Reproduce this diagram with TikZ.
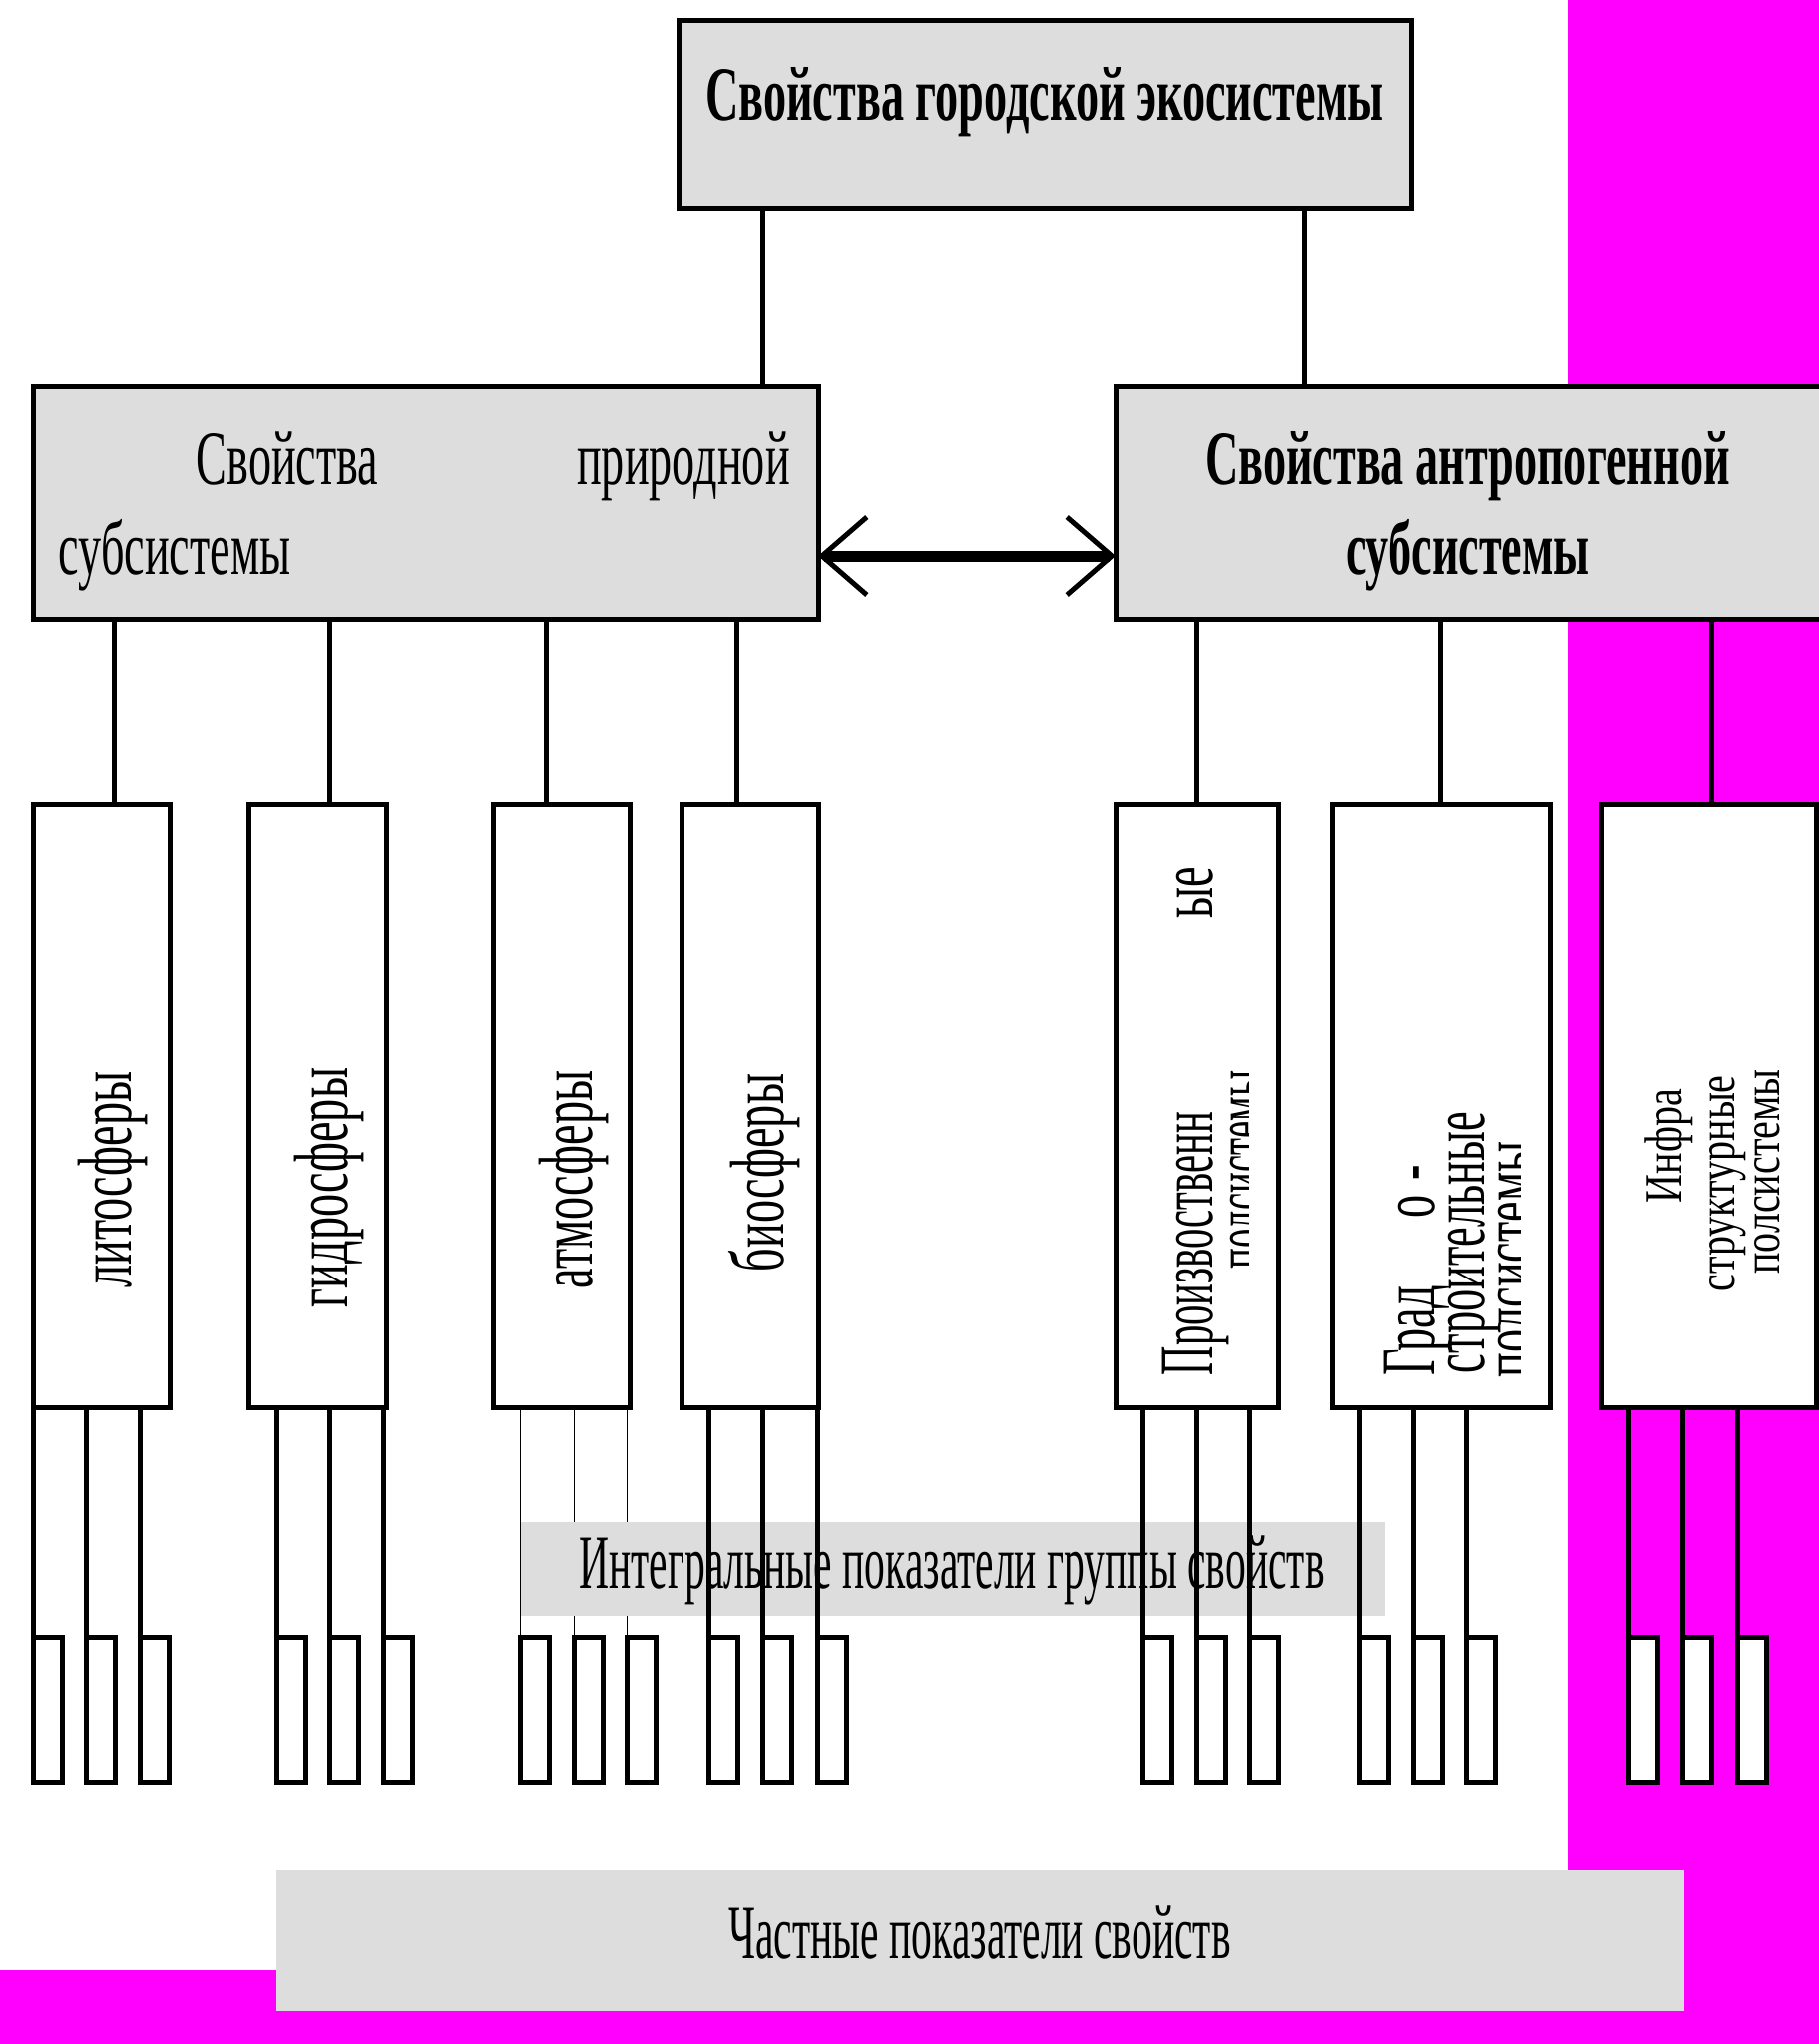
\documentclass[tikz,border=0pt]{standalone}
\usepackage{fontspec}
\setmainfont{Liberation Serif}[FakeStretch=0.6]
\usetikzlibrary{arrows.meta}
\definecolor{boxgrey}{RGB}{221,221,221}
\definecolor{bgmag}{RGB}{255,0,255}
\newcommand\fbig{\fontsize{77}{90}\selectfont}
\newcommand\fsmall{\fontsize{53}{60}\selectfont}
\newcommand\narrowto[2]{\scalebox{#1}[1]{#2}}
\begin{document}
\begin{tikzpicture}[x=1pt,y=-1pt,
  gbox/.style={draw=black,line width=5pt,fill=boxgrey,inner sep=0pt,outer sep=0pt},
  wbox/.style={draw=black,line width=5pt,fill=white,inner sep=0pt,outer sep=0pt,minimum height=604pt},
  sbox/.style={draw=black,line width=5pt,fill=white,inner sep=0pt,outer sep=0pt,minimum width=29pt,minimum height=145pt},
  plainbox/.style={fill=boxgrey,inner sep=0pt,outer sep=0pt},
  lnk/.style={line width=5pt},
  hair/.style={line width=1pt},
  txt/.style={inner sep=0pt,font=\fbig,anchor=base},
  btxt/.style={inner sep=0pt,font=\fbig\bfseries,anchor=base},
  vtxt/.style={inner sep=0pt,font=\fbig,rotate=90,anchor=base},
  stxt/.style={inner sep=0pt,font=\fsmall,rotate=90,anchor=base},
  barb/.tip={Straight Barb[length=45pt,width=78pt,line width=5pt]}
]
% background
\fill[white] (0,0) rectangle (1823,2048);
\useasboundingbox (0,0) rectangle (1823,2048);
\fill[bgmag] (1571,0) rectangle (1823,2048);
\fill[bgmag] (0,1974) rectangle (1823,2048);

% main boxes
\node[gbox,minimum width=734pt,minimum height=188pt] (top) at (1047,114) {};
\node[gbox,minimum width=787pt,minimum height=233pt] (nat) at (426.5,503.5) {};
\node[gbox,minimum width=712pt,minimum height=233pt] (ant) at (1474,503.5) {};

\node[btxt] (ttl) at (1047,120) {Свойства городской экосистемы};
\node[txt] (nat1) at (288,485) {Свойства};
\node[txt] (nat2) at (685,485) {природной};
\node[txt] (nat3) at (175,575) {субсистемы};
\node[btxt] (ant1) at (1471,485) {Свойства антропогенной};
\node[btxt] (ant2) at (1471,575) {субсистемы};

% connectors from top
\draw[lnk] (764,0 |- top.south) -- (764,0 |- nat.north);
\draw[lnk] (1307,0 |- top.south) -- (1307,0 |- ant.north);

% double arrow
\draw[line width=11pt,barb-barb] (nat.east |- 0,557) -- (ant.west |- 0,557);

% second-level boxes
\node[wbox,minimum width=137pt] (lito) at (101.5,1108) {};
\node[wbox,minimum width=138pt] (hydro) at (318,1108) {};
\node[wbox,minimum width=137pt] (atmo) at (562.5,1108) {};
\node[wbox,minimum width=137pt] (bio) at (751.5,1108) {};
\node[wbox,minimum width=163pt] (prod) at (1199.5,1108) {};
\node[wbox,minimum width=218pt] (grad) at (1444,1108) {};
\node[wbox,minimum width=215pt] (infra) at (1712.5,1108) {};

\foreach \xx/\nm in {114/lito,330/hydro,547/atmo,738/bio}
  \draw[lnk] (\xx,0 |- nat.south) -- (\xx,0 |- \nm.north);
\foreach \xx/\nm in {1199/prod,1443/grad,1715/infra}
  \draw[lnk] (\xx,0 |- ant.south) -- (\xx,0 |- \nm.north);

% vertical texts
\node[vtxt] (t-lito) at (131,1182) {литосферы};
\node[vtxt] (t-hydro) at (348,1190) {гидросферы};
\node[vtxt] (t-atmo) at (593,1182) {атмосферы};
\node[vtxt] (t-bio) at (785,1175) {биосферы};

\node[vtxt] (t-prod1) at (1215,1246) {\narrowto{0.88}{Произвоственн}};
\node[vtxt] (t-prod2) at (1215,895) {ые};
\begin{scope}
  \clip (1150,1000) rectangle (1251,1340);
  \node[vtxt] (t-prod3) at (1269,1172) {\narrowto{0.84}{подсистемы}};
\end{scope}

\node[vtxt] (t-grad1) at (1437,1333) {Град};
\node[vtxt] (t-grad2) at (1437,1209) {о};
\node[vtxt] (t-grad3) at (1437,1175) {-};
\node[vtxt] (t-grad4) at (1487,1245) {\narrowto{0.96}{строительные}};
\begin{scope}
  \clip (1400,1000) rectangle (1523,1400);
  \node[vtxt] (t-grad5) at (1537,1262) {подсистемы};
\end{scope}

\node[stxt] (t-inf1) at (1685,1148) {\narrowto{1.26}{Инфра}};
\node[stxt] (t-inf2) at (1738,1186) {\narrowto{1.26}{структурные}};
\node[stxt] (t-inf3) at (1783,1174) {\narrowto{1.26}{полсистемы}};

% third level: lito, hydro, atmo
\foreach \L [count=\i] in {33,86,140} {
  \node[sbox] (lito-\i) at (\L+14.5,1712.5) {};
  \draw[lnk] (lito-\i.north west) -- (lito-\i.north west |- lito.south);
}
\foreach \L [count=\i] in {277,330,384} {
  \node[sbox] (hydro-\i) at (\L+14.5,1712.5) {};
  \draw[lnk] (hydro-\i.north west) -- (hydro-\i.north west |- hydro.south);
}
\foreach \L [count=\i] in {521,575,628} {
  \node[sbox] (atmo-\i) at (\L+14.5,1712.5) {};
  \draw[hair] (atmo-\i.north west) -- (atmo-\i.north west |- atmo.south);
}

% integral indicators
\node[plainbox,minimum width=866pt,minimum height=94pt] (integ) at (955,1572) {};
\node[txt] (t-integ) at (954,1591) {\narrowto{0.9}{Интегральные показатели группы свойств}};

% third level: bio, prod, grad, infra
\foreach \L [count=\i] in {710,764,819} {
  \node[sbox] (bio-\i) at (\L+14.5,1712.5) {};
  \draw[lnk] (bio-\i.north west) -- (bio-\i.north west |- bio.south);
}
\foreach \L [count=\i] in {1145,1199,1252} {
  \node[sbox] (prod-\i) at (\L+14.5,1712.5) {};
  \draw[lnk] (prod-\i.north west) -- (prod-\i.north west |- prod.south);
}
\foreach \L [count=\i] in {1362,1416,1469} {
  \node[sbox] (grad-\i) at (\L+14.5,1712.5) {};
  \draw[lnk] (grad-\i.north west) -- (grad-\i.north west |- grad.south);
}
\foreach \L [count=\i] in {1632,1686,1741} {
  \node[sbox] (infra-\i) at (\L+14.5,1712.5) {};
  \draw[lnk] (infra-\i.north west) -- (infra-\i.north west |- infra.south);
}

% particular indicators
\node[plainbox,minimum width=1411pt,minimum height=141pt] (part) at (982.5,1944.5) {};
\node[txt] (t-part) at (982,1962) {\narrowto{0.9}{Частные показатели свойств}};
\end{tikzpicture}
\end{document}
